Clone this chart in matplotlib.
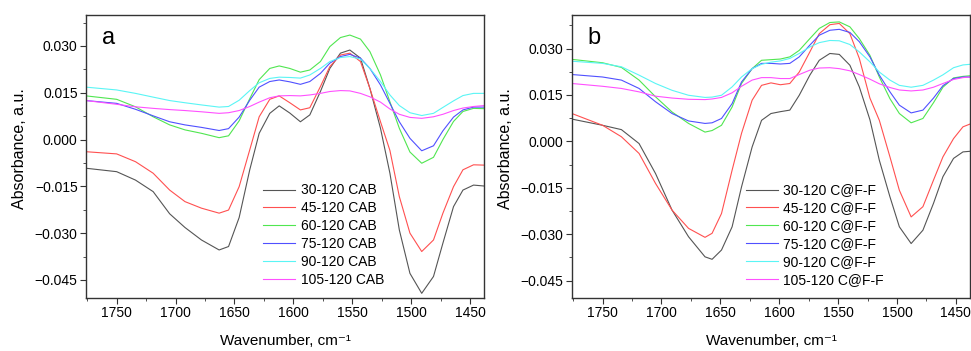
import matplotlib
matplotlib.use("Agg")
import matplotlib.pyplot as plt
from matplotlib.ticker import MultipleLocator, FuncFormatter

plt.rcParams['font.family'] = ['Liberation Sans', 'DejaVu Sans']

# ---- panel a: CAB ----
wn_a = [1776, 1750, 1734, 1719, 1705, 1692, 1678, 1663, 1655, 1646, 1637, 1629, 1620, 1612,
        1603, 1594, 1586, 1577, 1569, 1560, 1552, 1543, 1535, 1526, 1518, 1510, 1501, 1491,
        1481, 1473, 1464, 1456, 1447, 1438]
cab_30 = [-0.0092, -0.0103, -0.0130, -0.0167, -0.0238, -0.0282, -0.0322, -0.0354, -0.0343,
          -0.0250, -0.0097, 0.0020, 0.0084, 0.0108, 0.0085, 0.0057, 0.0079, 0.0154, 0.0228,
          0.0277, 0.0287, 0.0261, 0.0164, 0.0036, -0.0108, -0.0290, -0.0429, -0.0493,
          -0.0439, -0.0332, -0.0215, -0.0162, -0.0146, -0.0149]
cab_45 = [-0.0039, -0.0046, -0.0071, -0.0108, -0.0162, -0.0199, -0.0220, -0.0236, -0.0226,
          -0.0151, -0.0033, 0.0073, 0.0129, 0.0140, 0.0118, 0.0095, 0.0102, 0.0170, 0.0234,
          0.0271, 0.0277, 0.0250, 0.0164, 0.0057, -0.0035, -0.0183, -0.0300, -0.0359,
          -0.0322, -0.0236, -0.0151, -0.0097, -0.0081, -0.0082]
cab_60 = [0.0140, 0.0129, 0.0105, 0.0073, 0.0047, 0.0031, 0.0020, 0.0006, 0.0012, 0.0060,
          0.0131, 0.0192, 0.0228, 0.0236, 0.0228, 0.0216, 0.0223, 0.0250, 0.0298, 0.0327,
          0.0335, 0.0322, 0.0282, 0.0207, 0.0121, 0.0036, -0.0040, -0.0076, -0.0057, 0.0000,
          0.0058, 0.0090, 0.0100, 0.0099]
cab_75 = [0.0125, 0.0116, 0.0097, 0.0076, 0.0057, 0.0047, 0.0039, 0.0029, 0.0035, 0.0072,
          0.0126, 0.0168, 0.0186, 0.0191, 0.0185, 0.0177, 0.0186, 0.0212, 0.0245, 0.0266,
          0.0273, 0.0261, 0.0228, 0.0175, 0.0116, 0.0057, 0.0004, -0.0036, -0.0020, 0.0028,
          0.0072, 0.0095, 0.0104, 0.0104]
cab_90 = [0.0168, 0.0159, 0.0148, 0.0136, 0.0125, 0.0118, 0.0111, 0.0104, 0.0106, 0.0126,
          0.0157, 0.0182, 0.0196, 0.0200, 0.0199, 0.0197, 0.0207, 0.0228, 0.0250, 0.0263,
          0.0266, 0.0258, 0.0228, 0.0186, 0.0143, 0.0109, 0.0086, 0.0077, 0.0084, 0.0103,
          0.0124, 0.0141, 0.0148, 0.0148]
cab_105 = [0.0125, 0.0113, 0.0105, 0.0100, 0.0096, 0.0093, 0.0089, 0.0084, 0.0086, 0.0093,
           0.0106, 0.0120, 0.0134, 0.0140, 0.0141, 0.0140, 0.0143, 0.0148, 0.0154, 0.0157,
           0.0156, 0.0148, 0.0137, 0.0120, 0.0098, 0.0081, 0.0071, 0.0068, 0.0073, 0.0081,
           0.0093, 0.0101, 0.0106, 0.0109]

# ---- panel b: C@F-F ----
wn_b = [1776, 1750, 1734, 1719, 1705, 1691, 1677, 1663, 1657, 1649, 1640, 1632, 1623, 1615,
        1607, 1599, 1591, 1583, 1574, 1566, 1557, 1549, 1540, 1532, 1523, 1515, 1506, 1498,
        1488, 1478, 1469, 1461, 1452, 1444, 1438]
cff_30 = [0.0072, 0.0052, 0.0038, -0.0007, -0.0104, -0.0222, -0.0308, -0.0373, -0.0381,
          -0.0351, -0.0276, -0.0147, -0.0018, 0.0068, 0.0090, 0.0096, 0.0101, 0.0149, 0.0214,
          0.0262, 0.0284, 0.0281, 0.0246, 0.0176, 0.0070, -0.0061, -0.0179, -0.0276, -0.0330,
          -0.0287, -0.0200, -0.0114, -0.0055, -0.0034, -0.0032]
cff_45 = [0.0090, 0.0052, 0.0015, -0.0039, -0.0136, -0.0222, -0.0281, -0.0310, -0.0297,
          -0.0233, -0.0093, 0.0026, 0.0133, 0.0181, 0.0189, 0.0183, 0.0187, 0.0224, 0.0289,
          0.0348, 0.0377, 0.0381, 0.0348, 0.0268, 0.0140, 0.0068, -0.0050, -0.0158, -0.0244,
          -0.0211, -0.0125, -0.0050, 0.0009, 0.0047, 0.0056]
cff_60 = [0.0265, 0.0254, 0.0239, 0.0198, 0.0144, 0.0095, 0.0058, 0.0030, 0.0035, 0.0052,
          0.0111, 0.0187, 0.0235, 0.0262, 0.0264, 0.0266, 0.0273, 0.0294, 0.0332, 0.0365,
          0.0384, 0.0386, 0.0370, 0.0332, 0.0278, 0.0208, 0.0138, 0.0090, 0.0060, 0.0074,
          0.0125, 0.0175, 0.0205, 0.0210, 0.0212]
cff_75 = [0.0216, 0.0208, 0.0198, 0.0171, 0.0128, 0.0090, 0.0066, 0.0058, 0.0060, 0.0074,
          0.0122, 0.0192, 0.0235, 0.0252, 0.0252, 0.0250, 0.0252, 0.0273, 0.0311, 0.0343,
          0.0359, 0.0362, 0.0352, 0.0322, 0.0273, 0.0214, 0.0160, 0.0117, 0.0092, 0.0101,
          0.0140, 0.0180, 0.0203, 0.0208, 0.0208]
cff_90 = [0.0259, 0.0252, 0.0241, 0.0214, 0.0187, 0.0165, 0.0149, 0.0142, 0.0143, 0.0149,
          0.0176, 0.0208, 0.0235, 0.0249, 0.0256, 0.0260, 0.0268, 0.0284, 0.0305, 0.0319,
          0.0326, 0.0325, 0.0313, 0.0289, 0.0257, 0.0224, 0.0198, 0.0181, 0.0175, 0.0181,
          0.0198, 0.0215, 0.0238, 0.0247, 0.0249]
cff_105 = [0.0187, 0.0178, 0.0171, 0.0160, 0.0146, 0.0140, 0.0136, 0.0135, 0.0137, 0.0142,
           0.0157, 0.0178, 0.0198, 0.0206, 0.0206, 0.0203, 0.0203, 0.0216, 0.0230, 0.0237,
           0.0238, 0.0235, 0.0228, 0.0216, 0.0201, 0.0186, 0.0174, 0.0166, 0.0163, 0.0166,
           0.0175, 0.0187, 0.0200, 0.0206, 0.0208]

times = ['30-120', '45-120', '60-120', '75-120', '90-120', '105-120']
colors = ['#555555', '#ff5050', '#50e650', '#5050ff', '#5af5f5', '#ff50ff']

fig = plt.figure(figsize=(9.71, 3.51), dpi=100)

# y 刻度用真正的减号
ytick_fmt = FuncFormatter(lambda v, pos: f'{v:.3f}'.replace('-', '\u2212'))


def draw_panel(rect, wn, series, suffix, letter, ylim, leg_x):
    ax = fig.add_axes(rect)
    for y, t, c in zip(series, times, colors):
        ax.plot(wn, y, color=c, lw=0.8, solid_joinstyle='round', label=f'{t} {suffix}')
    ax.set_xlim(1776, 1438)
    ax.set_ylim(*ylim)
    ax.xaxis.set_major_locator(MultipleLocator(50))
    ax.xaxis.set_minor_locator(MultipleLocator(25))
    ax.yaxis.set_major_locator(MultipleLocator(0.015))
    ax.yaxis.set_minor_locator(MultipleLocator(0.0075))
    ax.yaxis.set_major_formatter(ytick_fmt)
    ax.tick_params(which='both', direction='out', top=False, right=False,
                   labelsize=10, color='#333333', pad=2)
    ax.tick_params(which='major', length=4)
    ax.tick_params(which='minor', length=2.5)
    for s in ax.spines.values():
        s.set_color('#333333')
        s.set_linewidth(1.0)
    ax.set_xlabel('Wavenumber, cm⁻¹', fontsize=11, labelpad=10)
    ax.set_ylabel('Absorbance, a.u.', fontsize=11.5)
    ax.yaxis.set_label_coords(-0.148, 0.527)
    ax.text(0.04, 0.92, letter, transform=ax.transAxes, fontsize=17,
            va='center', ha='left')
    ax.legend(loc='upper left', bbox_to_anchor=(leg_x, 0.405), frameon=False,
              fontsize=10, handlelength=2.3, handletextpad=0.4, labelspacing=0.28,
              borderpad=0, borderaxespad=0)
    return ax


draw_panel([0.0886, 0.151, 0.41, 0.806], wn_a,
           [cab_30, cab_45, cab_60, cab_75, cab_90, cab_105], 'CAB', 'a',
           (-0.0508, 0.0399), 0.445)
draw_panel([0.589, 0.151, 0.41, 0.806], wn_b,
           [cff_30, cff_45, cff_60, cff_75, cff_90, cff_105], 'C@F-F', 'b',
           (-0.0506, 0.0408), 0.437)

fig.savefig('out.png', dpi=100)
